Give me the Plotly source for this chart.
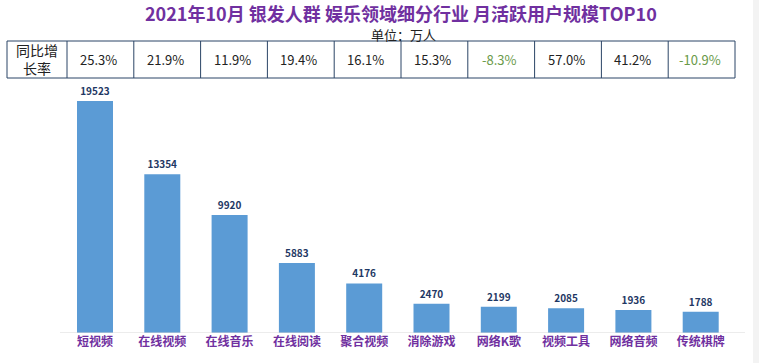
import plotly.graph_objects as go

categories = ["短视频", "在线视频", "在线音乐", "在线阅读", "聚合视频", "消除游戏", "网络K歌", "视频工具", "网络音频", "传统棋牌"]
users = [19523, 13354, 9920, 5883, 4176, 2470, 2199, 2085, 1936, 1788]
growth = ["25.3%", "21.9%", "11.9%", "19.4%", "16.1%", "15.3%", "-8.3%", "57.0%", "41.2%", "-10.9%"]
title_text = "2021年10月 银发人群 娱乐领域细分行业 月活跃用户规模TOP10"
subtitle_text = "单位：万人"
row_label = "同比增<br>长率"

W, H = 759, 363
T, B = 90, 30
plot_h = H - T - B
FONT = "Noto Sans CJK SC"

# x axis spans full width; map pixels to data units
px0, step = 95.0, 67.3
xa = -px0 / step
xb = xa + W / step
def px2x(p):
    return (p - px0) / step
def py2paper(p):
    return (H - B - p) / plot_h

fig = go.Figure(go.Bar(
    x=list(range(len(categories))), y=users, width=0.535,
    marker=dict(color="#5B9BD5", line=dict(width=0)),
    text=[str(v) for v in users], textposition="outside", cliponaxis=False,
    textfont=dict(family=FONT, size=10, color="#1F3864", weight="bold"),
))

shapes = []
# baseline
shapes.append(dict(type="line", xref="x", yref="y", x0=px2x(60), x1=px2x(745), y0=0, y1=0,
                   line=dict(color="#D9D9D9", width=1.2), layer="above"))
# right gray strip
shapes.append(dict(type="rect", xref="paper", yref="paper", x0=753 / W, x1=1, y0=py2paper(H), y1=py2paper(0),
                   fillcolor="#F3F3F3", line=dict(width=0), layer="below"))
# table
ty0, ty1 = py2paper(41), py2paper(78)
bcol = "#2B4566"
tl, tlab, tr = 7, 67, 735
colw = (tr - tlab) / len(categories)
shapes.append(dict(type="rect", xref="x", yref="paper", x0=px2x(tl), x1=px2x(tr), y0=ty1, y1=ty0,
                   line=dict(color=bcol, width=1)))
borders = [tlab + colw * i for i in range(len(categories))]
for b in borders:
    shapes.append(dict(type="line", xref="x", yref="paper", x0=px2x(b), x1=px2x(b), y0=ty1, y1=ty0,
                       line=dict(color=bcol, width=1)))

annotations = [
    dict(text=title_text, x=401 / W, y=py2paper(12.5), xref="paper", yref="paper", xanchor="center", yanchor="middle",
         showarrow=False, borderpad=0, font=dict(family=FONT, size=18, color="#7030A0", weight="bold")),
    dict(text=subtitle_text, x=404 / W, y=py2paper(34.5), xref="paper", yref="paper", xanchor="center", yanchor="middle",
         showarrow=False, borderpad=0, font=dict(family=FONT, size=13, color="#222222")),
]
ann_ymid = py2paper(59.5)
annotations.append(dict(text=row_label, x=px2x((tl + tlab) / 2), y=ann_ymid, xref="x", yref="paper",
                        xanchor="center", yanchor="middle",
                        showarrow=False, font=dict(family=FONT, size=14, color="#222222")))
for i, g in enumerate(growth):
    c = "#6A9A4A" if g.startswith("-") else "#222222"
    cx = tlab + colw * (i + 0.5) - 2
    annotations.append(dict(text=g, x=px2x(cx), y=ann_ymid, xref="x", yref="paper", showarrow=False,
                            xanchor="center", yanchor="middle",
                            font=dict(family=FONT, size=13, color=c)))

fig.update_layout(
    width=W, height=H, margin=dict(l=0, r=0, t=T, b=B, autoexpand=False),
    paper_bgcolor="white", plot_bgcolor="white", showlegend=False,
    xaxis=dict(range=[xa, xb], tickmode="array", tickvals=list(range(len(categories))), ticktext=categories,
               showgrid=False, zeroline=False, showline=False, ticks="", automargin=False,
               tickfont=dict(family=FONT, size=12, color="#7030A0", weight="bold")),
    yaxis=dict(range=[0, 20450], visible=False, showgrid=False, zeroline=False, automargin=False),
    shapes=shapes, annotations=annotations,
)

fig.write_html("out.html", config={"displayModeBar": False},
               post_script="document.body.style.margin='0';document.body.style.overflow='hidden';")
